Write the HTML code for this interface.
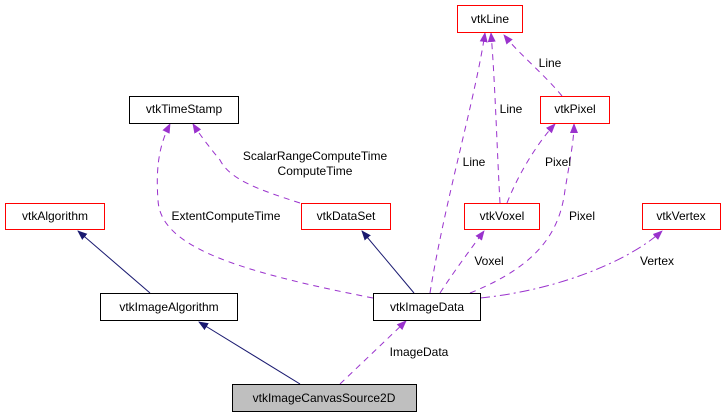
<!DOCTYPE html>
<html><head><style>body{margin:0;background:#fff}svg{display:block}text{font-family:"Liberation Sans",sans-serif;font-size:12px}</style></head><body>
<svg width="725" height="416" viewBox="0 0 725 416" xmlns="http://www.w3.org/2000/svg">
<defs>
<marker id="n" markerWidth="10" markerHeight="10" refX="9" refY="5" orient="auto" markerUnits="userSpaceOnUse"><path d="M0,1 L10,5 L0,9 z" fill="#191970"/></marker>
<marker id="p" markerWidth="10" markerHeight="10" refX="9" refY="5" orient="auto" markerUnits="userSpaceOnUse"><path d="M0,1 L10,5 L0,9 z" fill="#9a32cd"/></marker>
</defs>
<g fill="none" stroke="#191970" stroke-width="1">
<path d="M150,293 L78,231" marker-end="url(#n)"/>
<path d="M300,384 L199,322" marker-end="url(#n)"/>
<path d="M414,293 L362,231" marker-end="url(#n)"/>
</g>
<g fill="none" stroke="#9a32cd" stroke-width="1" stroke-dasharray="6,5">
<path d="M340,384 L406,321" marker-end="url(#p)"/>
<path d="M373,298 C230,270 160,245 158,200 C155,160 162,140 170,124" marker-end="url(#p)"/>
<path d="M300,203 C260,190 230,180 220,160 C210,148 200,135 193,124" marker-end="url(#p)"/>
<path d="M430,293 C445,200 475,100 485,33" marker-end="url(#p)"/>
<path d="M500,203 C497,150 495,80 491,33" marker-end="url(#p)"/>
<path d="M562,96 C545,75 520,55 504,35" marker-end="url(#p)"/>
<path d="M507,203 C520,170 540,140 555,124" marker-end="url(#p)"/>
<path d="M470,293 C540,265 560,230 565,190 C570,160 574,140 574,124" marker-end="url(#p)"/>
<path d="M440,293 C455,270 470,250 484,231" marker-end="url(#p)"/>
<path d="M480,298 C560,290 630,260 662,231" stroke-dasharray="10,4,2,4" marker-end="url(#p)"/>
</g>
<g stroke-width="1">
<rect x="457.5" y="5.5" width="65" height="27" fill="#fff" stroke="#f00"/>
<rect x="129.5" y="96.5" width="109" height="27" fill="#fff" stroke="#000"/>
<rect x="540.5" y="96.5" width="69" height="27" fill="#fff" stroke="#f00"/>
<rect x="5.5" y="203.5" width="99" height="26" fill="#fff" stroke="#f00"/>
<rect x="301.5" y="203.5" width="89" height="26" fill="#fff" stroke="#f00"/>
<rect x="464.5" y="203.5" width="75" height="26" fill="#fff" stroke="#f00"/>
<rect x="642.5" y="203.5" width="78" height="26" fill="#fff" stroke="#f00"/>
<rect x="100.5" y="293.5" width="137" height="27" fill="#fff" stroke="#000"/>
<rect x="373.5" y="293.5" width="107" height="27" fill="#fff" stroke="#000"/>
<rect x="232.5" y="384.5" width="184" height="27" fill="#bfbfbf" stroke="#000"/>
</g>
<g fill="#000" text-anchor="middle">
<text x="490" y="23">vtkLine</text>
<text x="184" y="113">vtkTimeStamp</text>
<text x="575" y="113">vtkPixel</text>
<text x="55" y="220">vtkAlgorithm</text>
<text x="346" y="220">vtkDataSet</text>
<text x="502" y="220">vtkVoxel</text>
<text x="681" y="220">vtkVertex</text>
<text x="169" y="311">vtkImageAlgorithm</text>
<text x="427" y="311">vtkImageData</text>
<text x="324" y="402">vtkImageCanvasSource2D</text>
<text x="419" y="356">ImageData</text>
<text x="226" y="220">ExtentComputeTime</text>
<text x="315" y="160">ScalarRangeComputeTime</text>
<text x="315" y="175">ComputeTime</text>
<text x="474" y="166">Line</text>
<text x="511" y="113">Line</text>
<text x="550" y="67">Line</text>
<text x="558" y="166">Pixel</text>
<text x="582" y="220">Pixel</text>
<text x="489" y="265">Voxel</text>
<text x="657" y="265">Vertex</text>
</g>
</svg>
</body></html>
